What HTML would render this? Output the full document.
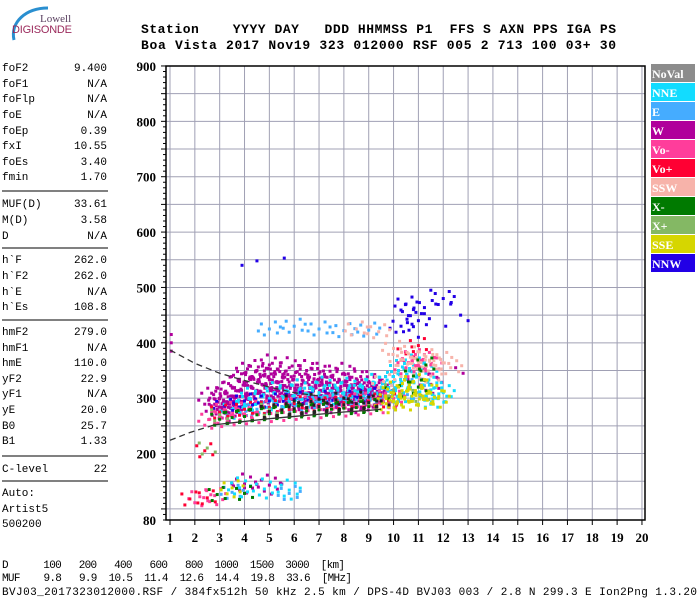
<!DOCTYPE html>
<html><head><meta charset="utf-8"><style>
body{margin:0;background:#fff;width:700px;height:600px;overflow:hidden;position:relative;font-family:"Liberation Mono",monospace}
</style></head><body>
<svg id="chart" width="700" height="600" style="position:absolute;left:0;top:0" font-family="Liberation Mono, monospace">
<g>
<path d="M14 40 C10 22 26 8 48 8" stroke="#2a8fd0" stroke-width="3" fill="none"/>
<text x="40" y="22" font-family="Liberation Serif, serif" font-size="11" fill="#5a4060">Lowell</text>
<text x="12" y="33" font-family="Liberation Sans, sans-serif" font-size="11" fill="#9b2a5c" textLength="60">DIGISONDE</text>
</g>
<g font-size="13" font-weight="bold">
<text x="141" y="33" xml:space="preserve" textLength="475" lengthAdjust="spacing">Station    YYYY DAY   DDD HHMMSS P1  FFS S AXN PPS IGA PS</text>
<text x="141" y="49" xml:space="preserve" textLength="475" lengthAdjust="spacing">Boa Vista 2017 Nov19 323 012000 RSF 005 2 713 100 03+ 30</text>
</g>
<g id="grid"></g>
<g id="marks"></g>
<g id="axes"></g>
<g id="legend"></g>
<g id="left" font-size="11"></g>
<g font-size="11">
<text x="2" y="568" xml:space="preserve" textLength="343" lengthAdjust="spacing">D      100   200   400   600   800  1000  1500  3000  [km]</text>
<text x="2" y="581" xml:space="preserve" textLength="350" lengthAdjust="spacing">MUF    9.8   9.9  10.5  11.4  12.6  14.4  19.8  33.6  [MHz]</text>
<text x="2" y="595" xml:space="preserve" textLength="695" lengthAdjust="spacing">BVJ03_2017323012000.RSF / 384fx512h 50 kHz 2.5 km / DPS-4D BVJ03 003 / 2.8 N 299.3 E Ion2Png 1.3.20</text>
</g>
</svg>
<script>
const xTicks=[1,2,3,4,5,6,7,8,9,10,11,12,13,14,15,16,17,18,19,20];
const yTicks=[900,800,700,600,500,400,300,200,80];
const legendNames=["NoVal","NNE","E","W","Vo-","Vo+","SSW","X-","X+","SSE","NNW"];
const legendColors=["#8c8c8c","#12dcff","#45acff","#b0009b","#ff3d9b","#ff0033","#f7b3aa","#007a00","#84b864","#d6d600","#2200e6"];
const seriesW=[3,300,3.2,310,3.5,320,3.8,330,4,345,4.2,335,4.5,350,4.8,340,5,360,5.2,345,5.5,330,5.8,355,6,340,6.3,325,6.5,350,6.8,335,7,345,7.3,325,7.5,340,7.8,330,8,345,8.3,320,8.5,335,8.8,315,9,330,9.3,320,9.5,310,3.3,290,3.6,300,4.1,305,4.6,310,5.1,315,5.6,305,6.1,300,6.6,310,7.1,305,7.6,300,8.1,305,8.6,295,9.1,300,10,330,10.5,350,11,340,11.5,325,4,145,5,143,2.6,300,2.9,280,3.3,275,3.9,285,4.4,290,5.4,295,6.4,290,7.4,290,8.4,290,4.3,320,4.7,325,5.3,330,5.7,320,6.2,315,6.7,320,7.2,315,7.7,315,8.2,312,8.7,310,9.2,305,3.1,290,3.8,295,4.9,300,5.9,305,6.9,300,7.9,300,8.9,295];
const seriesWsparse=[1.05,415,1.05,400,1.05,385,12.8,345,3.5,145,4.5,144,5.5,145,4,138,12.5,355,11.8,335];
const seriesNNE=[3.5,280,4,285,4.5,290,5,295,5.5,300,6,305,6.5,300,7,310,7.5,305,8,310,8.5,305,9,315,9.5,320,10,330,10.5,335,11,320,11.5,315,12,310,4.2,300,5.2,310,6.2,315,7.2,320,8.2,318,9.2,325,10.2,350,10.8,360,11.3,345,3.8,138,4.8,136,5.8,134,9.7,300,10.4,310,11.2,300,11.7,300];
const seriesE=[5,425,6,430,7,425,8,422,9,423,4.5,280,5.5,285,6.5,290,7.5,295,8.5,298,9.5,300,10.4,305,11,310,3.5,130,5.8,128,10.3,330];
const seriesVom=[2.6,262,3,265,3.5,268,4,270,4.5,272,5,274,5.5,276,6,278,6.5,280,7,281,7.5,283,8,284,8.5,286,9,288,9.5,290,10,300,10.5,355,10.8,375,11.2,370,11.5,360,3.2,280,4.2,282,5.2,286,6.2,290,7.2,292,8.2,295,9.2,300,2.2,122,2.8,124];
const seriesVop=[3,275,4,280,5,283,6,290,7,288,8,292,9,295,9.8,295,10.5,380,11,395,2.4,205,1.8,118,2.5,120];
const seriesSSW=[9.4,420,10,390,10.3,370,10.6,380,11,365,11.3,375,11.6,360,11.9,370,12.3,355,8.5,425,10.5,350,11.5,340,9.6,330];
const seriesXm=[3,262,3.5,265,4,267,4.5,270,5,272,5.5,274,6,276,6.5,277,7,279,7.5,280,8,282,8.5,283,9,285,10,310,10.8,340,11,320,11.3,360,2.9,126,4,128];
const seriesXp=[3,270,5,280,7,285,9,290,10,315,11.1,305,2.5,210];
const seriesSSE=[9.7,290,10,295,10.3,300,10.6,295,10.9,305,11.2,298,11.5,310,11.8,300,10.2,320,10.8,330,11.1,320,9.9,310,3.5,138];
const seriesNNW=[10.5,470,10.8,460,11,440,12,480,10.3,430,3.2,285,4,295,5,295,6,298,7,300,8,300,9,305];
const seriesNNWsparse=[12.3,470,12.7,450,13,440,3.9,540,4.5,548,5.6,553,10.4,420,11,410,11.5,495,10.9,455,12.1,430,11.7,470];
const seriesBlack=[5,276,5.5,279,6,281,6.5,283,7,285,7.5,287,8,288,8.5,290,9,292,9.5,295,6,295,7,298,8,300,9,302];
const curveSolid=[2.8,252,4,258,5,263,6,267,7,271,8,275,9,278,9.5,280];
const curveLowerDash=[1,224,1.8,238,2.8,252];
const curveUpperDash=[1,387,2,363,3,345,4,332,5,320,6,310,7,304];

const NS="http://www.w3.org/2000/svg";
const X0=166,X1=645,Y0=66,Y1=520;
const CL=[[0,0],[-8,-5],[8,4],[-5,6],[6,-7],[11,-2],[-11,2],[2,9],[-2,-10]];
function xs(f){return 170+(f-1)*24.84;}
function ys(h){return 520-(h-80)*0.5537;}
function mk(tag,at,parent){const e=document.createElementNS(NS,tag);for(const k in at)e.setAttribute(k,at[k]);parent.appendChild(e);return e;}
const grid=document.getElementById('grid'),axes=document.getElementById('axes'),marks=document.getElementById('marks');
mk('rect',{x:X0,y:Y0,width:X1-X0,height:Y1-Y0,fill:'#fff'},grid);
for(let h=100;h<=850;h+=50){const l=mk('line',{x1:X0,x2:X1,y1:ys(h),y2:ys(h),stroke:'#a0a0b4','stroke-width':1},grid);

}
for(const f of xTicks){const l=mk('line',{x1:xs(f),x2:xs(f),y1:Y0,y2:Y1,stroke:'#a0a0b4','stroke-width':1},grid);

}
function draw(arr,color,n,name){for(let i=0;i<arr.length;i+=2){const cx=xs(arr[i]),cy=ys(arr[i+1]);
for(let k=0;k<n;k++){const r=mk('rect',{x:cx+CL[k][0]-1.5,y:cy+CL[k][1]-1.5,width:3,height:3,fill:color},marks);

}}}
draw(seriesW,"#b0009b",9,'echo-w');
draw(seriesWsparse,"#b0009b",1,'echo-w');
draw(seriesE,"#45acff",7,'echo-e');
draw(seriesNNE,"#12dcff",9,'echo-nne');
draw(seriesNNW,"#2200e6",7,'echo-nnw');
draw(seriesNNWsparse,"#2200e6",1,'echo-nnw');
draw(seriesVom,"#ff3d9b",8,'echo-vo-minus');
draw(seriesVop,"#ff0033",5,'echo-vo-plus');
draw(seriesSSW,"#f7b3aa",7,'echo-ssw');
draw(seriesXm,"#007a00",5,'echo-x-minus');
draw(seriesXp,"#84b864",4,'echo-x-plus');
draw(seriesSSE,"#d6d600",8,'echo-sse');
draw(seriesBlack,"#222",4,'echo-black');
function curve(arr,dash,name){let d='';for(let i=0;i<arr.length;i+=2)d+=(i?'L':'M')+xs(arr[i])+' '+ys(arr[i+1]);
const p=mk('path',{d:d,fill:'none',stroke:'#333','stroke-width':1.3},marks);if(dash)p.setAttribute('stroke-dasharray','6 4');

}
curve(curveSolid,false,'profile-curve');
curve(curveLowerDash,true,'profile-extrapolation-lower');
curve(curveUpperDash,true,'profile-extrapolation-upper');
mk('rect',{x:X0,y:Y0,width:X1-X0,height:Y1-Y0,fill:'none',stroke:'#000','stroke-width':1.5},axes);
for(let h=80;h<=900;h+=10){mk('line',{x1:X0-(h%50==0?5:3),x2:X0,y1:ys(h),y2:ys(h),stroke:'#000'},axes);}
for(const h of yTicks){const t=mk('text',{x:156,y:ys(h)+5,'text-anchor':'end','font-family':'Liberation Serif, serif','font-weight':'bold','font-size':13},axes);t.textContent=h;

}
for(const f of xTicks){mk('line',{x1:xs(f),x2:xs(f),y1:Y1,y2:Y1+5,stroke:'#000'},axes);
const t=mk('text',{x:xs(f),y:542,'text-anchor':'middle','font-family':'Liberation Serif, serif','font-weight':'bold','font-size':13},axes);t.textContent=f;

}
const lg=document.getElementById('legend');
legendNames.forEach((n,i)=>{const y=64+i*19;const r=mk('rect',{x:651,y:y,width:44,height:18,fill:legendColors[i]},lg);


const t=mk('text',{x:652,y:y+14,fill:'#fff','font-family':'Liberation Serif, serif','font-weight':'bold','font-size':12},lg);t.textContent=n;

});
const leftRows=[["foF2","9.400",67],["foF1","N/A",83],["foFlp","N/A",98],["foE","N/A",114],["foEp","0.39",130],["fxI","10.55",145],["foEs","3.40",161],["fmin","1.70",176],
["MUF(D)","33.61",203],["M(D)","3.58",219],["D","N/A",235],["h`F","262.0",259],["h`F2","262.0",275],["h`E","N/A",291],["h`Es","108.8",306],
["hmF2","279.0",331],["hmF1","N/A",347],["hmE","110.0",362],["yF2","22.9",378],["yF1","N/A",393],["yE","20.0",409],["B0","25.7",425],["B1","1.33",440],["C-level","22",468],["Auto:","",492],["Artist5","",508],["500200","",523]];
const lp=document.getElementById('left');
leftRows.forEach(r=>{const a=mk('text',{x:2,y:r[2]+4},lp);a.textContent=r[0];


if(r[1]){const b=mk('text',{x:107,y:r[2]+4,'text-anchor':'end'},lp);b.textContent=r[1];

}});
[191,248,320,456,481].forEach(y=>{mk('line',{x1:2,x2:108,y1:y,y2:y,stroke:'#000'},lp);});
</script>
</body></html>
